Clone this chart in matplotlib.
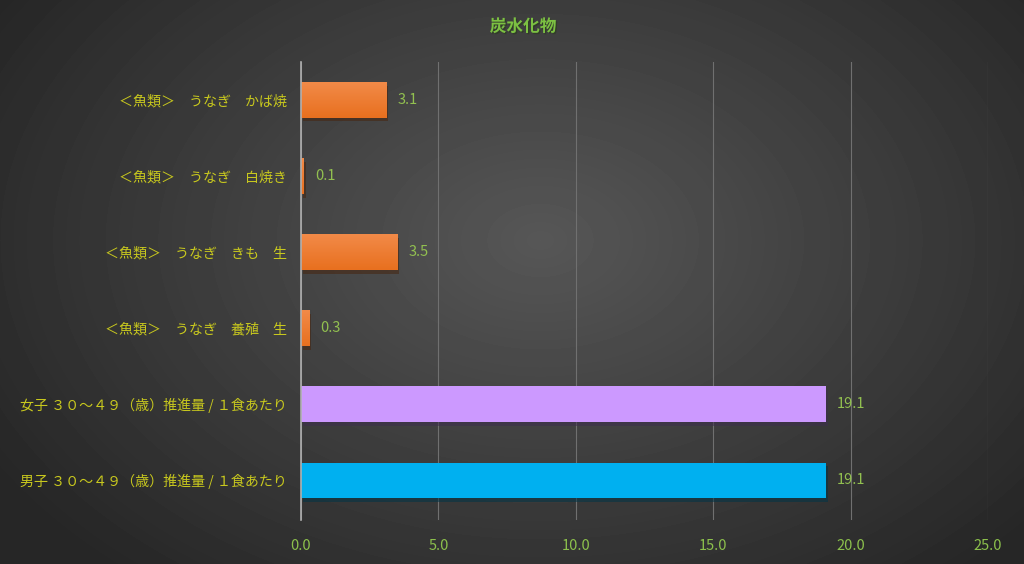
import numpy as np
import matplotlib
matplotlib.use('Agg')
import matplotlib.pyplot as plt
import matplotlib.patheffects as pe
from matplotlib.colors import LinearSegmentedColormap

plt.rcParams['font.family'] = ['Noto Sans CJK JP', 'DejaVu Sans']

""" Data """

title = '炭水化物'
labels = ['＜魚類＞　うなぎ　かば焼',
          '＜魚類＞　うなぎ　白焼き',
          '＜魚類＞　うなぎ　きも　生',
          '＜魚類＞　うなぎ　養殖　生',
          '女子 ３０～４９（歳）推進量 / １食あたり',
          '男子 ３０～４９（歳）推進量 / １食あたり']
values = [3.1, 0.1, 3.5, 0.3, 19.1, 19.1]
colors = ['#ED7D31', '#ED7D31', '#ED7D31', '#ED7D31', '#CC99FF', '#00B0F0']
xticks = [0, 5, 10, 15, 20, 25]

""" Figure with radial gradient background """

fig = plt.figure(figsize=(10.24, 5.64), dpi=100)

bg = fig.add_axes([0, 0, 1, 1], zorder=-10)
yy, xx = np.mgrid[0:564, 0:1024]
r = np.sqrt(((xx - 540) / 640.0) ** 2 + ((yy - 240) / 440.0) ** 2)
shade = np.clip(0.34 - 0.19 * r, 0.15, 0.34)
bg.imshow(shade, cmap='gray', vmin=0, vmax=1, aspect='auto', interpolation='bilinear')
bg.axis('off')

ax = fig.add_axes([0.294, 0.078, 0.671, 0.812])
ax.patch.set_alpha(0)
ax.set_axisbelow(True)

pos = np.arange(len(values))[::-1]
bars = ax.barh(pos, values, height=0.47, color=colors, zorder=3)
for b in bars:
    b.set_path_effects([pe.SimplePatchShadow(offset=(1.5, -2.5), alpha=0.55), pe.Normal()])

# orange bars get a soft top-to-bottom gradient
orange = LinearSegmentedColormap.from_list('org', ['#F28A48', '#E8701F'])
grad = np.linspace(0, 1, 64).reshape(-1, 1)
for b, c in zip(bars, colors):
    if c != '#ED7D31':
        continue
    x0, y0, w, h = b.get_x(), b.get_y(), b.get_width(), b.get_height()
    im = ax.imshow(grad, cmap=orange, aspect='auto', origin='upper',
                   extent=(x0, x0 + w, y0, y0 + h), zorder=3.5)
    im.set_clip_path(b)

for p, v in zip(pos, values):
    ax.text(v + 0.4, p, '%.1f' % v, va='center', ha='left',
            color='#92C050', fontsize=10.5, zorder=4)

ax.set_xlim(0, 25)
ax.set_ylim(-0.52, 5.5)
ax.set_xticks(xticks)
ax.set_xticklabels(['%.1f' % t for t in xticks])
ax.set_yticks(pos)
ax.set_yticklabels(labels)

ax.tick_params(axis='x', length=0, colors='#8CC04C', labelsize=10.5, pad=14)
ax.tick_params(axis='y', length=0, colors='#C8C81E', labelsize=10.1, pad=10)

ax.grid(axis='x', color='#707070', linewidth=0.8)
ax.grid(axis='y', visible=False)
for s in ['top', 'right', 'bottom']:
    ax.spines[s].set_visible(False)
ax.spines['left'].set_color('#B0B0B0')
ax.spines['left'].set_linewidth(1.2)
ax.spines['left'].set_zorder(5)

fig.text(0.5107, 0.953, title, ha='center', va='center', color='#7CC142',
         fontsize=12, fontweight='bold',
         path_effects=[pe.withSimplePatchShadow(offset=(1, -1), alpha=0.5)])

fig.savefig('out.png', dpi=100)
